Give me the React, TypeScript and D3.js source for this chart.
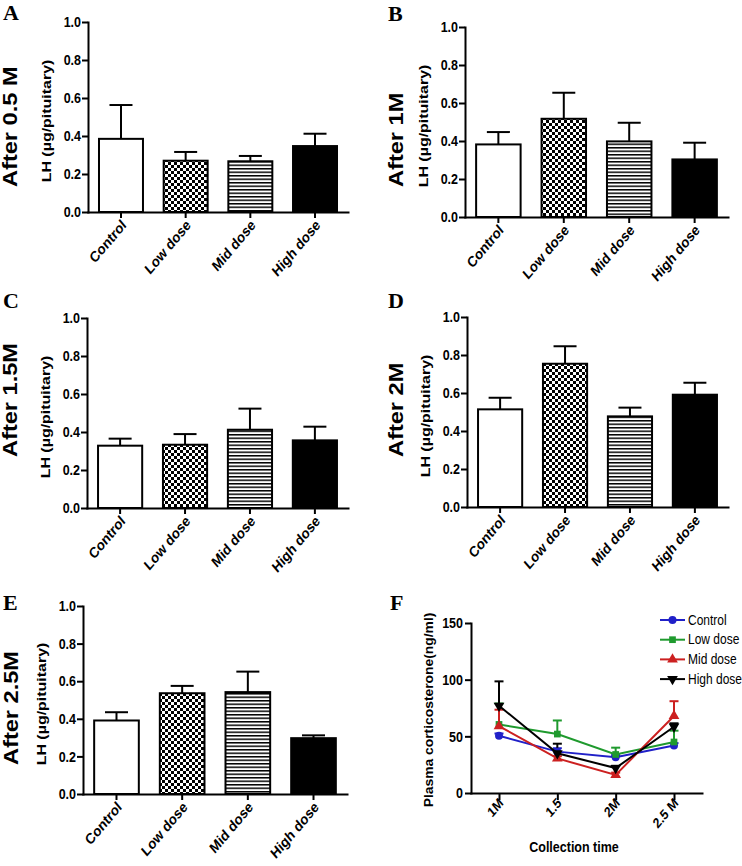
import React, { useEffect, useRef } from "react";
import * as d3 from "d3";

// ---- data ----
const groups = ["Control", "Low dose", "Mid dose", "High dose"];
const lhTicks = [0, 0.2, 0.4, 0.6, 0.8, 1.0];

const lhMeanA = [0.385, 0.27, 0.267, 0.347];
const lhSemA = [0.178, 0.046, 0.028, 0.065];
const lhMeanB = [0.382, 0.517, 0.398, 0.303];
const lhSemB = [0.065, 0.137, 0.098, 0.088];
const lhMeanC = [0.328, 0.333, 0.412, 0.356];
const lhSemC = [0.037, 0.056, 0.111, 0.072];
const lhMeanD = [0.514, 0.754, 0.477, 0.591];
const lhSemD = [0.061, 0.092, 0.046, 0.063];
const lhMeanE = [0.391, 0.536, 0.542, 0.297];
const lhSemE = [0.044, 0.039, 0.109, 0.015];

const barTitles = ["After 0.5 M", "After 1M", "After 1.5M", "After 2M", "After 2.5M"];
const panelLetters = ["A", "B", "C", "D", "E", "F"];

const times = ["1M", "1.5", "2M", "2.5 M"];
const cortTicks = [0, 50, 100, 150];
const cortControl = [50.5, 36.5, 31.5, 42];
const cortControlSem = [2, 3, 2, 2];
const cortLow = [60.5, 52, 34, 45];
const cortLowSem = [18.5, 12, 6, 10];
const cortMid = [59, 30.5, 16, 68];
const cortMidSem = [14.5, 2, 2, 13];
const cortHigh = [77, 35, 22, 58.5];
const cortHighSem = [21.5, 8.5, 2, 3];

// ---- layout ----
const FONT = "'Liberation Sans', Arial, Helvetica, sans-serif";
const SERIF = "'Liberation Serif', 'Times New Roman', serif";
const S = 1.18; // lettering in the scan is stretched vertically

const barLayout = [
  { x0: 88, x1: 348, yTop: 22, yBot: 212, lx: 3, ly: 20, tx: 17, ty: 187 },
  { x0: 465, x1: 728, yTop: 27, yBot: 217, lx: 388, ly: 21, tx: 403, ty: 187 },
  { x0: 87, x1: 348, yTop: 318, yBot: 508, lx: 3, ly: 308, tx: 17, ty: 457 },
  { x0: 467, x1: 728, yTop: 317, yBot: 507, lx: 388, ly: 308, tx: 403, ty: 457 },
  { x0: 83, x1: 347, yTop: 606, yBot: 794, lx: 3, ly: 610, tx: 18, ty: 765 },
];
const lineLayout = { x0: 471, x1: 702, yTop: 623, yBot: 793, lx: 390, ly: 610 };

type Sel = d3.Selection<any, any, any, any>;

function txt(
  g: Sel,
  x: number,
  y: number,
  s: string,
  o: { size: number; weight?: string; anchor?: string; rot?: number; family?: string; fill?: string; len?: number; sy?: number }
) {
  const t = g
    .append("text")
    .attr("transform", `translate(${x},${y}) scale(1,${o.sy ?? S}) rotate(${o.rot ?? 0})`)
    .attr("font-family", o.family ?? FONT)
    .attr("font-size", o.size)
    .attr("font-weight", o.weight ?? "bold")
    .attr("text-anchor", o.anchor ?? "start")
    .attr("fill", o.fill ?? "#000")
    .text(s);
  if (o.len) t.attr("textLength", o.len).attr("lengthAdjust", "spacingAndGlyphs");
  return t;
}

function styleAxis(a: Sel) {
  a.select(".domain").attr("stroke-width", 2).attr("stroke-linecap", "square");
  a.selectAll(".tick line").attr("stroke-width", 2);
  a.selectAll(".tick text")
    .attr("font-family", FONT)
    .attr("font-weight", "bold")
    .attr("font-size", 12.5)
    .attr("fill", "#000")
    .attr("transform", `scale(1,${S})`);
}

function drawBarPanel(svg: Sel, idx: number, means: number[], sems: number[]) {
  const p = barLayout[idx];
  const g = svg.append("g");
  const x = d3.scaleBand<string>().domain(groups).range([p.x0, p.x1]).paddingInner(0.32).paddingOuter(0.17);
  const y = d3.scaleLinear().domain([0, 1]).range([p.yBot, p.yTop]);
  const fills = ["#fff", "url(#checker)", "url(#stripes)", "#000"];

  // error bars (upper only)
  groups.forEach((d, i) => {
    const cx = x(d)! + x.bandwidth() / 2;
    g.append("line")
      .attr("x1", cx).attr("x2", cx)
      .attr("y1", y(means[i])).attr("y2", y(means[i] + sems[i]))
      .attr("stroke", "#000").attr("stroke-width", 2);
    g.append("line")
      .attr("x1", cx - 11.5).attr("x2", cx + 11.5)
      .attr("y1", y(means[i] + sems[i])).attr("y2", y(means[i] + sems[i]))
      .attr("stroke", "#000").attr("stroke-width", 2);
  });

  g.selectAll("rect.bar")
    .data(groups)
    .join("rect")
    .attr("class", "bar")
    .attr("x", (d) => x(d)!)
    .attr("y", (_, i) => y(means[i]))
    .attr("width", x.bandwidth())
    .attr("height", (_, i) => y(0) - y(means[i]))
    .attr("fill", (_, i) => fills[i])
    .attr("stroke", "#000")
    .attr("stroke-width", 2);

  const ya = g
    .append("g")
    .attr("transform", `translate(${p.x0},0)`)
    .call(d3.axisLeft(y).tickValues(lhTicks).tickFormat(d3.format(".1f")).tickSize(6).tickSizeOuter(0).tickPadding(1));
  styleAxis(ya);

  const xa = g
    .append("g")
    .attr("transform", `translate(0,${p.yBot})`)
    .call(d3.axisBottom(x).tickSize(6).tickSizeOuter(0).tickFormat(() => ""));
  styleAxis(xa);

  groups.forEach((d) => {
    const cx = x(d)! + x.bandwidth() / 2;
    txt(g, cx + 6, p.yBot + 14, d, { size: 12.8, anchor: "end", rot: -45 });
  });

  txt(g, p.x0 - 37, (p.yTop + p.yBot) / 2 + 4, "LH (µg/pituitary)", { size: 12.5, anchor: "middle", rot: -90, len: 104 });
  txt(g, p.tx, p.ty, barTitles[idx], { size: 20, rot: -90 });
  txt(g, p.lx, p.ly, panelLetters[idx], { size: 22, family: SERIF, sy: 1 });
}

function drawLinePanel(svg: Sel) {
  const p = lineLayout;
  const g = svg.append("g");
  const x = d3.scalePoint<string>().domain(times).range([p.x0, p.x1]).padding(0.48);
  const y = d3.scaleLinear().domain([0, 150]).range([p.yBot, p.yTop]);

  const series = [
    { name: "Control", vals: cortControl, sem: cortControlSem, color: "#2020c8", sym: d3.symbolCircle, size: 50, rot: 0 },
    { name: "Low dose", vals: cortLow, sem: cortLowSem, color: "#1f9a2e", sym: d3.symbolSquare, size: 45, rot: 0 },
    { name: "Mid dose", vals: cortMid, sem: cortMidSem, color: "#cc2020", sym: d3.symbolTriangle, size: 50, rot: 0 },
    { name: "High dose", vals: cortHigh, sem: cortHighSem, color: "#000", sym: d3.symbolTriangle, size: 50, rot: 180 },
  ];

  const ya = g
    .append("g")
    .attr("transform", `translate(${p.x0},0)`)
    .call(d3.axisLeft(y).tickValues(cortTicks).tickSize(6).tickSizeOuter(0).tickPadding(2));
  styleAxis(ya);
  const xa = g
    .append("g")
    .attr("transform", `translate(0,${p.yBot})`)
    .call(d3.axisBottom(x).tickSize(7).tickSizeOuter(0).tickFormat(() => ""));
  styleAxis(xa);
  times.forEach((t) => txt(g, x(t)! + 5, p.yBot + 11, t, { size: 12, anchor: "end", rot: -45 }));

  const line = d3
    .line<number>()
    .x((_, i) => x(times[i])!)
    .y((d) => y(d));

  series.forEach((s) => {
    s.vals.forEach((v, i) => {
      const cx = x(times[i])!;
      g.append("line").attr("x1", cx).attr("x2", cx).attr("y1", y(v)).attr("y2", y(v + s.sem[i]))
        .attr("stroke", s.color).attr("stroke-width", 2);
      g.append("line").attr("x1", cx - 4.5).attr("x2", cx + 4.5).attr("y1", y(v + s.sem[i])).attr("y2", y(v + s.sem[i]))
        .attr("stroke", s.color).attr("stroke-width", 2);
    });
  });
  series.forEach((s) => {
    g.append("path").datum(s.vals).attr("d", line).attr("fill", "none").attr("stroke", s.color).attr("stroke-width", 2);
    g.selectAll(null)
      .data(s.vals)
      .join("path")
      .attr("transform", (d, i) => `translate(${x(times[i])},${y(d)}) rotate(${s.rot})`)
      .attr("d", d3.symbol(s.sym, s.size)() as string)
      .attr("fill", s.color);
  });

  // legend
  series.forEach((s, i) => {
    const ly = 620 + i * 19.7;
    g.append("line").attr("x1", 660).attr("x2", 685).attr("y1", ly).attr("y2", ly).attr("stroke", s.color).attr("stroke-width", 2);
    g.append("path")
      .attr("transform", `translate(672.5,${ly}) rotate(${s.rot})`)
      .attr("d", d3.symbol(s.sym, s.size)() as string)
      .attr("fill", s.color);
    txt(g, 688, ly + 4.5, s.name, { size: 12, weight: "normal" });
  });

  txt(g, 433, 710, "Plasma corticosterone(ng/ml)", { size: 12, anchor: "middle", rot: -90, len: 165 });
  txt(g, 574, 852, "Collection time", { size: 12.5, anchor: "middle" });
  txt(g, p.lx, p.ly, panelLetters[5], { size: 22, family: SERIF, sy: 1 });
}

export default function App() {
  const ref = useRef<SVGSVGElement>(null);

  useEffect(() => {
    if (!ref.current) return;
    const svg = d3.select(ref.current);
    svg.selectAll("*").remove();

    const defs = svg.append("defs");
    const ch = defs.append("pattern").attr("id", "checker").attr("patternUnits", "userSpaceOnUse").attr("width", 6).attr("height", 6);
    ch.append("rect").attr("width", 6).attr("height", 6).attr("fill", "#fff");
    ch.append("rect").attr("width", 3).attr("height", 3).attr("fill", "#000");
    ch.append("rect").attr("x", 3).attr("y", 3).attr("width", 3).attr("height", 3).attr("fill", "#000");
    const st = defs.append("pattern").attr("id", "stripes").attr("patternUnits", "userSpaceOnUse").attr("width", 8).attr("height", 3.5);
    st.append("rect").attr("width", 8).attr("height", 3.5).attr("fill", "#fff");
    st.append("rect").attr("width", 8).attr("height", 1.5).attr("fill", "#000");

    drawBarPanel(svg, 0, lhMeanA, lhSemA);
    drawBarPanel(svg, 1, lhMeanB, lhSemB);
    drawBarPanel(svg, 2, lhMeanC, lhSemC);
    drawBarPanel(svg, 3, lhMeanD, lhSemD);
    drawBarPanel(svg, 4, lhMeanE, lhSemE);
    drawLinePanel(svg);
  }, []);

  return (
    <svg
      ref={ref}
      width={742}
      height={866}
      style={{ position: "absolute", left: 0, top: 0, background: "#fff" }}
    />
  );
}
